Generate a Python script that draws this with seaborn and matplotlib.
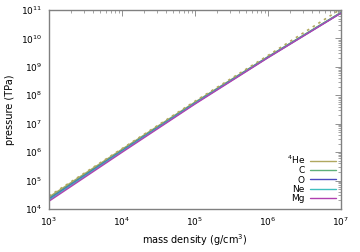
import numpy as np
import pandas as pd
import seaborn as sns
import matplotlib
matplotlib.use("Agg")
import matplotlib.pyplot as plt
from matplotlib.ticker import LogLocator, NullFormatter

# mass density (g/cm^3) and log10 of pressure (TPa)
density = [1e3, 1e4, 1e5, 1e6, 1e7]
species = ["$^4$He", "C", "O", "Ne", "Mg"]
logp_he = [4.42, 6.10, 7.76, 9.36, 10.92]
logp_c = [4.38, 6.07, 7.74, 9.35, 10.91]
logp_o = [4.34, 6.04, 7.72, 9.34, 10.90]
logp_ne = [4.31, 6.02, 7.71, 9.33, 10.90]
logp_mg = [4.27, 5.99, 7.69, 9.32, 10.89]
logp_dotted = [4.45, 6.12, 7.79, 9.40, 11.04]
colors = ["#b0a860", "#5fb07a", "#4b4bc0", "#3fbfbf", "#b040b0"]

frames = []
for name, vals in zip(species, [logp_he, logp_c, logp_o, logp_ne, logp_mg]):
    frames.append(pd.DataFrame({"rho": density, "P": 10 ** np.array(vals), "species": name}))
df = pd.concat(frames)

sns.set_style("white")
plt.rcParams["font.family"] = ["DejaVu Sans"]
plt.rcParams["text.color"] = "black"
plt.rcParams["axes.labelcolor"] = "black"
fig = plt.figure(figsize=(3.6, 2.52), dpi=100)
ax = fig.add_axes([0.136, 0.171, 0.811, 0.789])

sns.lineplot(data=df, x="rho", y="P", hue="species", palette=colors,
             hue_order=species, linewidth=1.0, ax=ax, sort=False)
ax.plot(density, 10 ** np.array(logp_dotted), color=colors[0], ls=(0, (1.5, 2.5)),
        lw=1.2)

ax.set_xscale("log")
ax.set_yscale("log")
ax.set_xlim(1e3, 1e7)
ax.set_ylim(1e4, 1e11)
ax.set_xlabel("mass density (g/cm$^3$)", fontsize=7, labelpad=3)
ax.set_ylabel("pressure (TPa)", fontsize=7, labelpad=4)

for a in [ax.xaxis, ax.yaxis]:
    a.set_minor_locator(LogLocator(base=10, subs=np.arange(2, 10), numticks=20))
    a.set_minor_formatter(NullFormatter())
ax.yaxis.set_major_locator(LogLocator(base=10, numticks=20))
ax.tick_params(which="both", direction="in", top=True, right=True,
               labelsize=6.5, color="#808080", labelcolor="black")
ax.tick_params(axis="x", which="major", pad=5)
ax.tick_params(axis="y", which="major", pad=5)
ax.tick_params(which="major", length=4, width=0.6)
ax.tick_params(which="minor", length=2, width=0.5)
for s in ax.spines.values():
    s.set_color("#808080")
    s.set_linewidth(1.0)

leg = ax.legend(loc="lower right", frameon=False, fontsize=6.5, markerfirst=False,
                handlelength=2.8, labelspacing=0.05, borderaxespad=0.2,
                handletextpad=0.6)
for t in leg.get_texts():
    t.set_ha("right")
for h in leg.get_lines():
    h.set_linewidth(1.0)

fig.savefig("out.png", dpi=100)
